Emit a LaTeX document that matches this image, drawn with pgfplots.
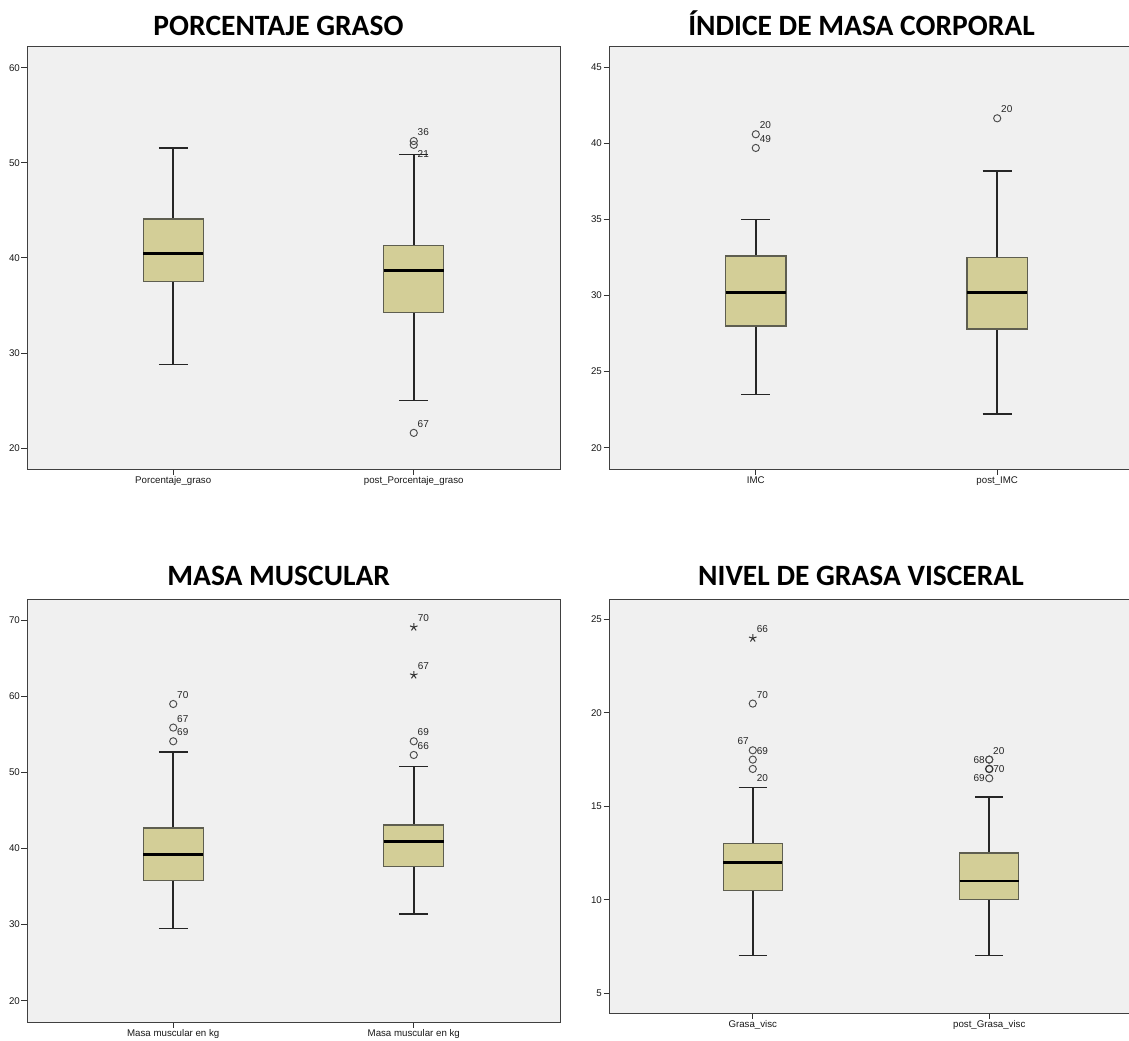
\documentclass[border=0pt]{standalone}
\usepackage{fontspec}
\setmainfont{Liberation Sans}
\newfontfamily\titlefont{Carlito}
\usepackage{pgfplots}
\pgfplotsset{compat=1.18}
\usepgfplotslibrary{statistics}
\definecolor{bgc}{HTML}{F0F0F0}
\definecolor{boxc}{HTML}{D3CE97}
\definecolor{edgec}{HTML}{5E5E50}
\newcommand\tlf{\fontsize{9.7bp}{11bp}\selectfont}
\newcommand\olf{\fontsize{10bp}{12bp}\selectfont}
\newcommand\ttf{\fontsize{29.5bp}{31bp}\titlefont\bfseries\selectfont}
\pgfplotsset{
  spss/.style={
    scale only axis,
    axis background/.style={fill=bgc},
    axis line style={draw=black!75, line width=0.8bp},
    tick align=outside, major tick length=5.5bp,
    major tick style={draw=black!80, line width=1bp},
    xtick={1,2}, xmin=0.392, xmax=2.608,
    tick label style={font=\tlf, text=black!90},
    /pgf/number format/assume math mode=true,
    tick pos=left,
    yticklabel style={inner sep=1.5bp},
    xticklabel style={inner sep=2bp},
    boxplot/draw direction=y,
    boxplot/every box/.style={draw=edgec, fill=boxc, line width=1.25bp},
    boxplot/every median/.style={draw=black, fill=none, line width=2.8bp},
    boxplot/every whisker/.style={draw=black!85, fill=none, line width=1.6bp},
    boxplot/box extend=0.25, boxplot/whisker extend=0.12,
  },
  outl/.style={only marks, mark=o, mark size=3.6bp,
    mark options={draw=black!70, line width=0.95bp, solid, fill=none},
    nodes near coords, point meta=explicit symbolic,
    nodes near coords style={font=\olf, text=black!85, inner sep=0pt}},
  st/.style={mark=star, mark size=4bp, mark options={draw=black!80, line width=1bp}},
  ur/.style={every node near coord/.append style={anchor=west, xshift=3.5bp, yshift=9bp}},
  rt/.style={every node near coord/.append style={anchor=west, xshift=3.5bp}},
  lf/.style={every node near coord/.append style={anchor=east, xshift=-4bp}},
  ul/.style={every node near coord/.append style={anchor=east, xshift=-3.5bp, yshift=9bp}},
  lr/.style={every node near coord/.append style={anchor=west, xshift=3.5bp, yshift=-9.5bp}},
}
\begin{document}
\begin{tikzpicture}
\useasboundingbox (0,0) rectangle (1129bp,-1041bp);
\clip (0,0) rectangle (1129bp,-1041bp);
\fill[white] (0,0) rectangle (1129bp,-1041bp);

% ---------- Panel 1 ----------
\node[font=\ttf, anchor=base] at (278.5bp,-35.7bp) {PORCENTAJE GRASO};
\begin{axis}[spss, at={(27bp,-469bp)}, anchor=south west,
  width=533bp, height=423bp, ymin=17.8, ymax=62.3,
  ytick={20,30,40,50,60},
  xticklabels={Porcentaje\_graso, post\_Porcentaje\_graso}]
\addplot[boxplot prepared={draw position=1, lower whisker=28.8, lower quartile=37.55,
  median=40.5, upper quartile=44.1, upper whisker=51.6}] coordinates {};
\addplot[boxplot prepared={draw position=2, lower whisker=25.0, lower quartile=34.3,
  median=38.7, upper quartile=41.3, upper whisker=50.9}] coordinates {};
\addplot[outl, ur] coordinates {(2,52.3) [36] (2,21.6) [67]};
\addplot[outl, lr] coordinates {(2,51.9) [21]};
\end{axis}

% ---------- Panel 2 ----------
\node[font=\ttf, anchor=base] at (861.5bp,-35.7bp) {ÍNDICE DE MASA CORPORAL};
\begin{axis}[spss, at={(609bp,-469bp)}, anchor=south west,
  width=535bp, height=423bp, ymin=18.6, ymax=46.4,
  ytick={20,25,30,35,40,45},
  xticklabels={IMC, post\_IMC}]
\addplot[boxplot prepared={draw position=1, lower whisker=23.5, lower quartile=28.0,
  median=30.2, upper quartile=32.6, upper whisker=35.0}] coordinates {};
\addplot[boxplot prepared={draw position=2, lower whisker=22.2, lower quartile=27.8,
  median=30.2, upper quartile=32.5, upper whisker=38.2}] coordinates {};
\addplot[outl, ur] coordinates {(1,40.6) [20] (1,39.7) [49] (2,41.65) [20]};
\end{axis}

% ---------- Panel 3 ----------
\node[font=\ttf, anchor=base] at (278.7bp,-585.7bp) {MASA MUSCULAR};
\begin{axis}[spss, at={(27bp,-1022bp)}, anchor=south west,
  width=533bp, height=423bp, ymin=17.2, ymax=72.8,
  ytick={20,30,40,50,60,70},
  xticklabels={Masa muscular en kg, Masa muscular en kg}]
\addplot[boxplot prepared={draw position=1, lower whisker=29.5, lower quartile=35.8,
  median=39.2, upper quartile=42.7, upper whisker=52.7}] coordinates {};
\addplot[boxplot prepared={draw position=2, lower whisker=31.4, lower quartile=37.6,
  median=40.9, upper quartile=43.1, upper whisker=50.8}] coordinates {};
\addplot[outl, ur] coordinates {(1,59.0) [70] (1,55.9) [67] (1,54.1) [69]
  (2,54.1) [69] (2,52.3) [66]};
\addplot[outl, st, ur] coordinates {(2,69.1) [70] (2,62.8) [67]};
\end{axis}

% ---------- Panel 4 ----------
\node[font=\ttf, anchor=base] at (861bp,-585.7bp) {NIVEL DE GRASA VISCERAL};
\begin{axis}[spss, at={(609bp,-1013bp)}, anchor=south west,
  width=524bp, height=414bp, ymin=3.93, ymax=26.1,
  ytick={5,10,15,20,25},
  xticklabels={Grasa\_visc, post\_Grasa\_visc}]
\addplot[boxplot prepared={draw position=1, lower whisker=7.0, lower quartile=10.5,
  median=12.0, upper quartile=13.0, upper whisker=16.0}] coordinates {};
\addplot[boxplot prepared={draw position=2, lower whisker=7.0, lower quartile=10.0,
  median=11.0, upper quartile=12.5, upper whisker=15.5}] coordinates {};
\addplot[outl, st, ur] coordinates {(1,24.0) [66]};
\addplot[outl, ur] coordinates {(1,20.5) [70] (1,17.5) [69] (2,17.5) [20]};
\addplot[outl, ul] coordinates {(1,18.0) [67]};
\addplot[outl, lr] coordinates {(1,17.0) [20]};
\addplot[outl, lf] coordinates {(2,17.5) [68] (2,16.5) [69]};
\addplot[outl, rt, mark options={draw=black!80, line width=1.3bp, fill=none}] coordinates {(2,17.0) [70]};
\end{axis}
\end{tikzpicture}
\end{document}
